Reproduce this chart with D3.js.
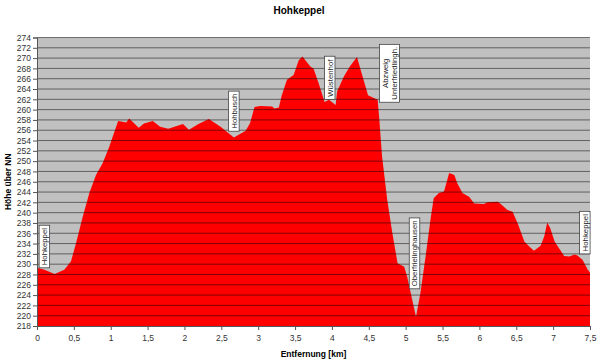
<!DOCTYPE html>
<html>
<head>
<meta charset="utf-8">
<script src="https://cdn.jsdelivr.net/npm/d3@7"></script>
<style>
  body { margin: 0; background: #fff; }
  text { font-family: "Liberation Sans", Arial, sans-serif; }
</style>
</head>
<body>
<script>
// Hoehenprofil Hohkeppel
var distKm = [0, 0.1, 0.24, 0.37, 0.46, 0.53, 0.62, 0.71, 0.8, 0.89, 0.98, 1.1, 1.21, 1.25, 1.38, 1.45,
  1.57, 1.67, 1.78, 1.98, 2.06, 2.19, 2.33, 2.49, 2.67, 2.83, 2.89, 2.95, 3.03, 3.19, 3.22, 3.28,
  3.32, 3.39, 3.48, 3.55, 3.6, 3.64, 3.71, 3.75, 3.82, 3.9, 3.96, 4.05, 4.07, 4.16, 4.24, 4.34,
  4.41, 4.49, 4.59, 4.62, 4.64, 4.68, 4.75, 4.82, 4.89, 4.98, 5.02, 5.08, 5.14, 5.2, 5.27, 5.34,
  5.38, 5.45, 5.52, 5.59, 5.66, 5.7, 5.77, 5.86, 5.93, 6.06, 6.11, 6.25, 6.29, 6.38, 6.45, 6.52,
  6.61, 6.68, 6.74, 6.83, 6.88, 6.92, 6.96, 7.02, 7.08, 7.15, 7.22, 7.29, 7.33, 7.4, 7.47, 7.5];
var hoehe = [229.3, 228.9, 228.1, 228.9, 230.5, 234.1, 239.2, 243.8, 247.3, 249.6, 252.8, 257.8, 257.5, 258.3, 256.5, 257.3,
  257.8, 256.7, 256.3, 257.2, 256.1, 257.2, 258.2, 256.7, 254.6, 255.9, 257.4, 260.5, 260.7, 260.6, 260.2, 260.4,
  262.8, 265.8, 266.7, 269.6, 270.3, 269.6, 268.3, 268.0, 265.1, 261.5, 261.9, 260.9, 263.5, 266.4, 268.3, 270.2,
  266.7, 262.8, 262.1, 261.9, 258.6, 250.9, 242.5, 236.0, 230.2, 229.5, 227.6, 223.7, 219.8, 224.4, 231.5, 239.0,
  242.8, 243.8, 244.1, 247.7, 247.3, 245.7, 243.8, 243.1, 241.8, 241.7, 242.0, 242.1, 241.7, 240.5, 240.2, 237.9,
  234.4, 233.4, 232.6, 233.6, 235.4, 238.1, 237.0, 234.4, 233.1, 231.6, 231.5, 231.9, 231.7, 230.8, 228.9, 228.4];

var xTicks = d3.range(0, 7.51, 0.5);
var yTicks = d3.range(218, 274.1, 2);

// Ortsnamen (Position in km / m)
var orte = [["Hohkeppel"], ["Hohbusch"], ["Wüstenhof"], ["Abzweig", "Unterfriedlingh."], ["Oberfrielinghausen"], ["Hohkeppel"]];
var orteKm = [0.1, 2.67, 3.97, 4.78, 5.12, 7.43];
var orteHoehe = [233.4, 259.7, 266.1, 267.05, 232.1, 236.1];

var width = 600, height = 361;
var margin = { top: 37.5, right: 10, bottom: 35, left: 37 };

var svg = d3.select("body").append("svg")
  .attr("width", width)
  .attr("height", height);

var x = d3.scaleLinear().domain([0, 7.5]).range([margin.left, width - margin.right]);
var y = d3.scaleLinear().domain([218, 274]).range([height - margin.bottom, margin.top]);

// Hintergrund
svg.append("rect")
  .attr("x", x(0)).attr("y", y(274))
  .attr("width", x(7.5) - x(0)).attr("height", y(218) - y(274))
  .attr("fill", "#c0c0c0");

var area = d3.area()
  .x(function (d, i) { return x(distKm[i]); })
  .y0(y(218))
  .y1(function (d) { return y(d); });

svg.append("path")
  .datum(hoehe)
  .attr("d", area)
  .attr("fill", "#ff0000");

// Gitterlinien ueber der Flaeche
svg.append("g")
  .selectAll("line")
  .data(yTicks.slice(1))
  .enter()
  .append("line")
  .attr("x1", x(0)).attr("x2", x(7.5))
  .attr("y1", function (d) { return y(d); })
  .attr("y2", function (d) { return y(d); })
  .attr("stroke", "#000")
  .attr("stroke-opacity", 0.5)
  .attr("stroke-width", 1);

var fmt = function (d) { return String(d).replace(".", ","); };

var xAxis = svg.append("g")
  .attr("transform", "translate(0," + y(218) + ")")
  .call(d3.axisBottom(x).tickValues(xTicks).tickFormat(fmt).tickSize(4).tickPadding(5));

var yAxis = svg.append("g")
  .attr("transform", "translate(" + x(0) + ",0)")
  .call(d3.axisLeft(y).tickValues(yTicks).tickSize(4).tickPadding(2));

[xAxis, yAxis].forEach(function (g) {
  g.select(".domain").attr("stroke", "#555");
  g.selectAll(".tick line").attr("stroke", "#555");
  g.selectAll(".tick text")
    .attr("fill", "#333")
    .style("font-family", "Liberation Sans, Arial, sans-serif")
    .style("font-size", "8.5px");
});

// Titel und Achsenbeschriftungen
svg.append("text")
  .attr("x", 299).attr("y", 14)
  .attr("text-anchor", "middle")
  .style("font-size", "10px").style("font-weight", "bold")
  .text("Hohkeppel");

svg.append("text")
  .attr("x", (x(0) + x(7.5)) / 2).attr("y", 357)
  .attr("text-anchor", "middle")
  .style("font-size", "8.5px").style("font-weight", "bold")
  .text("Entfernung [km]");

svg.append("text")
  .attr("transform", "translate(11," + (y(218) + y(274)) / 2 + ") rotate(-90)")
  .attr("text-anchor", "middle")
  .style("font-size", "8.5px").style("font-weight", "bold")
  .text("Höhe über NN");

// Ortsmarken
var marks = svg.append("g")
  .selectAll("g")
  .data(orte)
  .enter()
  .append("g")
  .attr("transform", function (d, i) {
    return "translate(" + x(orteKm[i]) + "," + y(orteHoehe[i]) + ") rotate(-90)";
  });

marks.each(function (lines) {
  var g = d3.select(this);
  var lh = 9.5;
  var t = g.append("text")
    .attr("text-anchor", "middle")
    .style("font-size", "7.8px")
    .attr("fill", "#222");
  lines.forEach(function (s, j) {
    t.append("tspan")
      .attr("x", 0)
      .attr("y", (j - (lines.length - 1) / 2) * lh + 2.8)
      .text(s);
  });
  var bb = t.node().getBBox();
  g.insert("rect", "text")
    .attr("x", bb.x - 2.5).attr("y", -lines.length * lh / 2 - 0.5)
    .attr("width", bb.width + 5).attr("height", lines.length * lh + 1)
    .attr("fill", "#fff")
    .attr("stroke", "#444")
    .attr("stroke-width", 0.8);
});
</script>
</body>
</html>
